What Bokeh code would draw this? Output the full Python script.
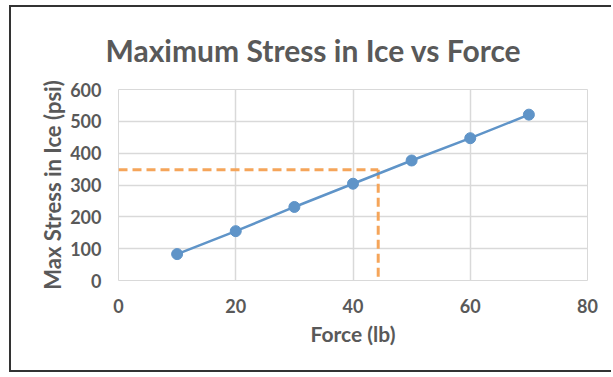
from bokeh.plotting import figure
from bokeh.models import Range1d, FixedTicker, Title
from bokeh.embed import file_html
from bokeh.resources import INLINE

force = [10, 20, 30, 40, 50, 60, 70]
stress = [83, 155, 231, 304, 377, 447, 521]
guide_force = 44.3
guide_stress = 348
x_ticks = [0, 20, 40, 60, 80]
y_ticks = [0, 100, 200, 300, 400, 500, 600]

TXT = "#595959"
FONT = "Lato"

p = figure(width=602, height=367, output_backend="svg", toolbar_location=None,
           x_range=Range1d(0, 80), y_range=Range1d(0, 600),
           min_border_left=107, min_border_right=26, min_border_top=82, min_border_bottom=94)
p.styles = {"margin-left": "9px", "margin-top": "5px",
            "border-left": "2px solid #333333", "border-top": "2px solid #333333",
            "border-bottom": "2px solid #333333"}
p.title = None
p.add_layout(Title(text="Maximum Stress in Ice vs Force", text_font=FONT, text_font_size="30px",
                   text_font_style="bold", text_color=TXT, align="left", offset=-13,
                   standoff=44), "above")

p.outline_line_color = "#d9d9d9"
p.background_fill_color = "white"
p.border_fill_color = "white"

for ax in (p.xaxis[0], p.yaxis[0]):
    ax.axis_line_color = None
    ax.major_tick_line_color = None
    ax.minor_tick_line_color = None
    ax.major_label_text_font = FONT
    ax.major_label_text_font_style = "bold"
    ax.major_label_text_font_size = "18px"
    ax.major_label_text_color = TXT
    ax.axis_label_text_font = FONT
    ax.axis_label_text_font_style = "bold"
    ax.axis_label_text_font_size = "21px"
    ax.axis_label_text_color = TXT

p.xaxis.ticker = FixedTicker(ticks=x_ticks)
p.yaxis.ticker = FixedTicker(ticks=y_ticks)
p.xaxis.axis_label = "Force (lb)"
p.yaxis.axis_label = "Max Stress in Ice (psi)"
p.yaxis.axis_label_text_font_size = "22px"
p.xaxis.major_label_standoff = 12
p.yaxis.major_label_standoff = 11
p.xaxis.axis_label_standoff = 5
p.yaxis.axis_label_standoff = 1

p.xgrid.ticker = FixedTicker(ticks=x_ticks)
p.ygrid.ticker = FixedTicker(ticks=y_ticks)
p.grid.grid_line_color = "#d9d9d9"
p.grid.grid_line_width = 1.5

orange = "#f5a55a"
p.line([0, guide_force], [guide_stress, guide_stress], line_color=orange, line_width=3, line_dash="9 5")
p.line([guide_force, guide_force], [guide_stress, 0], line_color=orange, line_width=3, line_dash="9 5")

blue = "#5f94c8"
p.line(force, stress, line_color=blue, line_width=2.5)
p.scatter(force, stress, size=11, fill_color=blue, line_color=blue)

open("out.html", "w").write(file_html(p, INLINE))
